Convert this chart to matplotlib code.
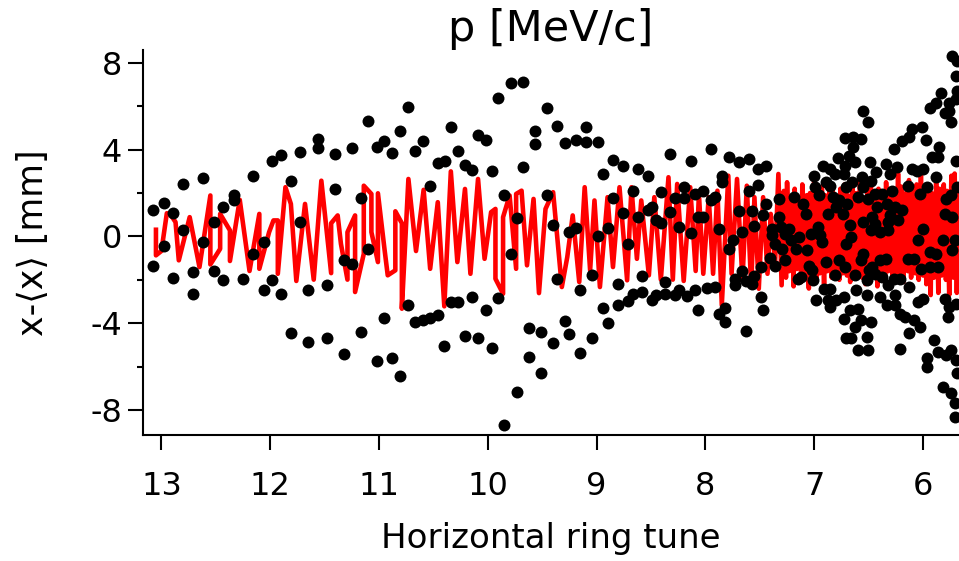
import numpy as np
import matplotlib
matplotlib.use("Agg")
import matplotlib.pyplot as plt

plt.rcParams['font.family'] = ['DejaVu Sans']

# tick positions
tune_ticks = [13, 12, 11, 10, 9, 8, 7, 6]
offset_ticks = [-8, -4, 0, 4, 8]
offset_minor = [-6, -2, 2, 6]

# red trace: (tune, offset [mm])
trace_pts = [
    (13.05, 0.31), (13.05, -0.87), (13.00, -0.67), (12.95, 1.07), (12.92, 1.04), (12.87, 0.66),
    (12.84, -1.10), (12.74, 0.89), (12.65, -1.41), (12.55, 1.89), (12.55, -1.29), (12.46, -0.57),
    (12.46, 1.04), (12.37, 0.28), (12.37, -1.13), (12.28, 1.69), (12.19, -1.59), (12.10, 1.04),
    (12.10, -1.49), (12.01, 0.20), (11.97, 0.74), (11.93, 0.74), (11.93, -1.72),
    (11.86, 2.27), (11.81, 1.50), (11.76, -2.05), (11.68, 1.50), (11.60, -1.99), (11.53, 2.57),
    (11.44, -1.69), (11.44, 0.61), (11.38, 0.97), (11.35, -0.34), (11.29, -1.99), (11.29, 0.20),
    (11.22, 0.97), (11.22, -2.56), (11.14, -0.80), (11.14, 2.34), (11.07, 1.96), (11.07, 0.20),
    (11.01, -1.18), (11.01, 1.99), (10.95, -0.57), (10.92, -1.79), (10.85, -1.56), (10.85, 1.16),
    (10.79, 0.61), (10.79, -3.33), (10.73, 2.65), (10.66, -0.67),
    (10.59, 2.15), (10.53, -1.49), (10.46, 1.58), (10.40, -3.22), (10.34, 3.00), (10.28, -1.18),
    (10.21, 2.19), (10.16, -1.72), (10.09, 2.65), (10.03, -1.03), (9.97, 1.12), (9.93, 1.27),
    (9.93, -1.95), (9.86, -2.64), (9.86, 0.89), (9.80, 1.89), (9.74, -1.49), (9.74, 1.96),
    (9.69, 2.11), (9.64, -1.33), (9.58, 1.73), (9.53, -2.61), (9.47, 1.27), (9.40, 2.04),
    (9.32, -2.33), (9.27, -0.95), (9.22, 0.97), (9.16, -2.10), (9.11, 2.27), (9.06, -1.56),
    (9.02, 1.66), (8.97, -2.33), (8.90, 1.81), (8.85, -1.41), (8.79, 2.27), (8.72, -2.02),
    (8.68, 2.27), (8.63, -1.03), (8.59, 1.66), (8.52, -1.79), (8.47, 1.81), (8.41, -1.99),
    (8.34, 2.73), (8.30, -1.99), (8.26, 2.42), (8.20, -2.05), (8.14, 2.27),
    (8.09, -1.59), (8.06, 1.96), (8.02, -1.72), (7.97, 1.81), (7.93, -1.72), (7.89, 2.11),
    (7.85, -3.17), (7.79, 2.80), (7.76, -1.72), (7.71, 2.65), (7.66, -2.02), (7.62, 2.34),
    (7.58, -2.33), (7.55, 1.81), (7.51, -2.41), (7.47, 1.81), (7.43, -1.72), (7.40, 1.04),
    (7.36, -1.20), (7.33, 2.88), (7.30, -2.25),
    (7.28, 2.1), (7.26, -1.9), (7.25, 2.5), (7.23, -1.6), (7.21, 1.8), (7.19, -2.3), (7.18, 2.2),
    (7.16, -1.5), (7.14, 1.7), (7.12, -2.1), (7.11, 2.4), (7.09, -1.8), (7.07, 1.9), (7.05, -2.4),
    (7.04, 2.0), (7.02, -1.6), (7.00, 2.9), (6.98, -2.0), (6.97, 1.8), (6.95, -1.7), (6.93, 2.3),
    (6.91, -2.2), (6.90, 1.9), (6.88, -1.6), (6.86, 2.5), (6.84, -1.9), (6.83, 2.1), (6.81, -1.5),
    (6.79, 1.8), (6.77, -2.0), (6.76, 2.2), (6.74, -1.7), (6.72, 2.4), (6.70, -1.8), (6.69, 1.9),
    (6.67, -2.1), (6.65, 2.3), (6.63, -1.6), (6.62, 2.0), (6.60, -1.8), (6.58, 2.6), (6.56, -1.9),
    (6.55, 1.8), (6.53, -2.2), (6.51, 2.1), (6.49, -1.6), (6.48, 2.4), (6.46, -1.8), (6.44, 1.9),
    (6.42, -2.3), (6.41, 2.2), (6.39, -1.7), (6.37, 2.0), (6.35, -1.9), (6.34, 2.5), (6.32, -1.6),
    (6.30, 2.1), (6.28, -2.0), (6.27, 1.8), (6.25, -1.7), (6.23, 2.9), (6.21, -1.8), (6.20, 2.3),
    (6.18, -2.1), (6.16, 2.0), (6.14, -1.6), (6.13, 2.6), (6.11, -1.9), (6.09, 2.2), (6.07, -1.7),
    (6.06, 2.4), (6.04, -2.0), (6.02, 2.9), (6.00, -1.8), (5.99, 2.1), (5.97, -2.2), (5.95, 2.3),
    (5.93, -2.7), (5.92, 2.0), (5.90, -1.9), (5.88, 2.5), (5.86, -2.6), (5.85, 2.2), (5.83, -1.8),
    (5.81, 2.4), (5.79, -2.0), (5.78, 2.1), (5.76, -2.7), (5.74, 2.8), (5.72, -1.9), (5.71, 2.9),
    (5.69, -2.6), (5.67, 2.3), (5.66, -1.8),
]

# black markers: (tune, offset [mm])
dot_pts = [
    (13.075, 1.23), (12.98, 1.53), (12.98, -0.46), (13.075, -1.38), (12.89, 1.09), (12.89, -1.90),
    (12.80, 2.42), (12.80, 0.28), (12.71, -1.64), (12.71, -2.67), (12.62, 2.70), (12.62, -0.26),
    (12.52, 0.66), (12.52, -1.59), (12.43, 1.35), (12.43, -2.02), (12.33, 1.93), (12.33, 1.66),
    (12.25, -1.95), (12.16, 2.80), (12.16, -0.80), (12.06, -0.26), (12.06, -2.45), (11.98, 3.46),
    (11.98, -2.02), (11.90, 3.77), (11.90, -2.64),
    (11.81, 2.54), (11.81, -4.45), (11.73, 3.88), (11.73, 0.66), (11.65, -2.45), (11.65, -4.86),
    (11.56, 4.49), (11.56, 4.08), (11.48, -2.25), (11.48, -4.66), (11.40, 3.80), (11.40, 2.18),
    (11.32, -1.10), (11.32, -5.43), (11.25, 4.08), (11.25, -1.29), (11.17, 1.75), (11.17, -4.40),
    (11.10, 5.33), (11.10, -0.58), (11.02, 4.11), (11.02, -5.73), (10.95, 4.41), (10.95, -3.74),
    (10.88, 3.85), (10.88, -5.62), (10.81, 4.84), (10.81, -6.41), (10.73, 5.98), (10.73, -3.17),
    (10.67, 3.92), (10.67, -3.94),
    (10.60, 4.41), (10.60, -3.83), (10.53, 2.34), (10.53, -3.74), (10.46, 3.37), (10.46, -3.63),
    (10.39, 3.46), (10.40, -5.03), (10.34, 5.03), (10.34, -3.02), (10.27, 3.95), (10.27, -3.02),
    (10.21, 3.31), (10.21, -4.60), (10.15, 3.07), (10.15, -2.79), (10.09, 4.69), (10.09, -4.70),
    (10.02, 4.44), (10.02, -3.40), (9.96, 3.00), (9.96, -5.12), (9.91, 6.38), (9.91, -2.82),
    (9.85, 1.93), (9.85, -8.69), (9.79, 7.07), (9.79, -0.80), (9.73, 0.86), (9.73, -7.19),
    (9.68, 7.10), (9.68, 3.22), (9.62, -4.20), (9.62, -5.55), (9.57, 4.87), (9.57, 4.26),
    (9.51, -4.40), (9.51, -6.31), (9.46, 5.92), (9.46, 1.89), (9.40, 0.51), (9.40, -4.93),
    (9.36, 5.07), (9.36, -1.95),
    (9.29, 4.29), (9.29, -3.89), (9.25, 0.20), (9.25, -4.51), (9.19, 4.44), (9.19, 0.40),
    (9.15, -2.48), (9.15, -5.39), (9.10, 5.06), (9.10, 4.34), (9.04, -1.79), (9.04, -4.70),
    (8.99, 4.34), (8.99, 0.02), (8.94, 2.88), (8.94, -3.30), (8.90, 0.40), (8.90, -3.97),
    (8.85, 3.52), (8.85, 1.78), (8.80, -2.21), (8.80, -3.17), (8.76, 3.26), (8.76, 1.09),
    (8.71, -0.37), (8.71, -2.97), (8.67, 2.11), (8.67, -2.64), (8.62, 3.11), (8.62, 0.89),
    (8.58, -1.84), (8.58, -2.56), (8.53, 2.80), (8.53, 1.23), (8.49, 1.35), (8.49, -2.91),
    (8.45, 0.74), (8.45, -2.71), (8.41, 2.04), (8.41, 0.61), (8.37, -2.10), (8.37, -2.64),
    (8.33, 3.80), (8.33, 1.12), (8.28, 1.78), (8.28, -2.71), (8.24, 0.43), (8.24, -2.48),
    (8.20, 2.30), (8.20, 1.78), (8.17, -2.76), (8.13, 3.49), (8.13, 0.15), (8.10, 1.96),
    (8.10, -2.45),
    (8.07, 0.89), (8.07, -3.40), (8.02, 2.08), (8.02, 0.89), (7.99, -2.36), (7.95, 4.03),
    (7.95, 1.66), (7.91, 1.81), (7.91, -2.33), (7.88, 0.35), (7.88, -3.56), (7.85, 2.80),
    (7.85, 2.50), (7.82, -3.28), (7.82, -3.94), (7.78, 3.65), (7.78, -0.57), (7.75, -0.18),
    (7.73, -1.95), (7.73, -2.25), (7.69, 3.42), (7.69, 1.16), (7.66, 0.20), (7.66, -1.59),
    (7.63, -4.35), (7.63, -2.05), (7.60, 3.57), (7.60, 2.08), (7.57, 1.16), (7.57, -2.21),
    (7.55, 0.47), (7.55, -1.84), (7.52, 3.11), (7.52, 2.39), (7.49, -2.79), (7.49, -1.41),
    (7.47, 1.01), (7.47, -3.40), (7.44, 3.26), (7.44, 1.50), (7.41, -0.98), (7.39, 0.35),
    (7.39, 0.05), (7.36, -1.38), (7.36, -0.34), (7.32, 1.73), (7.32, 0.89), (7.31, 0.43),
    (7.30, -0.57), (7.27, -1.10), (7.27, 0.12), (7.23, 0.35), (7.21, -0.18), (7.19, 1.81),
    (7.17, -0.57), (7.15, -1.95), (7.14, -0.03), (7.12, -1.87), (7.10, 1.50), (7.08, 1.04),
    (7.07, -0.64), (7.05, -1.38), (7.03, 0.12), (7.02, -1.56), (7.01, -2.02), (7.00, 2.80),
    (6.99, 2.27), (6.98, -2.94), (6.97, 0.43), (6.96, 1.89), (6.95, 0.05), (6.93, -0.26),
    (6.92, 3.26), (6.91, -2.41), (6.89, 2.50), (6.87, 1.04), (6.89, -1.18), (6.87, -2.94),
    (6.86, 3.11),
    (6.55, 5.76), (6.51, 5.26), (6.72, 4.54), (6.64, 4.57), (6.57, 4.49), (6.64, 4.11),
    (6.68, 3.72), (6.78, 3.62), (6.72, 3.26), (6.63, 3.42), (6.81, 2.88), (6.73, 2.88),
    (6.49, 3.42), (6.43, 2.96), (6.34, 3.34), (6.30, 2.88), (6.24, 3.22), (6.27, 4.03),
    (6.19, 4.41), (6.13, 4.57), (6.10, 4.95), (6.01, 5.06), (5.97, 4.44), (5.85, 4.14),
    (5.94, 5.94), (5.88, 6.17), (5.84, 6.63), (5.76, 6.17), (5.80, 5.71), (5.74, 5.26),
    (5.76, 5.79), (5.70, 6.33), (5.70, 7.40), (5.73, 8.32), (5.69, 8.09), (5.69, 6.71),
    (5.92, 3.65), (5.86, 3.65), (6.00, 3.11), (6.06, 3.03), (6.10, 3.11), (5.96, 2.27),
    (5.88, 2.76), (6.14, 2.34), (6.03, 1.96), (5.70, 3.49), (5.79, 1.73), (5.74, 1.89),
    (5.69, 2.27), (5.80, 1.04), (5.73, 0.89),
    (6.86, 2.34), (6.83, 1.81), (6.77, 1.66), (6.71, 2.27), (6.65, 2.50), (6.56, 2.73),
    (6.48, 2.57), (6.55, 2.27), (6.60, 1.81), (6.51, 1.73), (6.44, 1.96), (6.38, 1.96),
    (6.29, 2.08), (6.42, 1.35), (6.33, 1.50), (6.26, 1.35), (6.19, 1.20), (6.23, 0.74),
    (6.30, 0.97), (6.47, 0.89), (6.70, 1.50), (6.74, 1.04), (6.80, 1.35), (6.55, 0.66),
    (6.67, 0.51), (6.44, 0.58), (6.32, 0.66), (6.48, 0.28), (6.40, 0.20), (6.32, 0.28),
    (6.66, -0.03), (6.71, -0.34), (6.00, 0.35), (6.05, -0.15), (5.82, -0.18), (5.71, -0.18),
    (5.73, -0.64), (5.94, -0.72), (5.88, -0.80), (6.55, -0.80), (6.57, -1.10), (6.34, -1.03),
    (6.40, -1.07), (6.77, -1.10), (6.72, -1.41), (6.14, -1.03), (6.08, -1.03), (6.02, -1.49),
    (5.94, -1.41), (5.86, -1.41), (6.63, -1.79), (6.81, -1.79), (6.50, -1.56), (6.47, -1.41),
    (6.52, -2.02), (6.44, -1.72), (6.38, -1.87), (6.27, -1.95), (6.21, -1.95), (6.32, -2.25),
    (6.13, -2.33), (6.62, -2.45), (6.52, -2.71), (6.40, -2.79), (6.26, -2.71), (6.86, -2.41),
    (6.80, -2.94), (6.73, -2.79), (6.05, -3.02), (6.00, -2.87), (5.80, -2.87), (5.76, -3.25),
    (5.70, -3.10), (5.77, -3.71), (6.33, -3.17), (6.26, -3.17), (6.21, -3.56), (6.17, -3.71),
    (6.08, -3.86), (6.03, -4.17), (6.13, -4.47), (6.86, -3.25), (6.73, -3.79), (6.67, -3.40),
    (6.60, -3.33), (6.57, -3.86), (6.63, -4.17), (6.48, -3.94), (6.71, -4.70), (6.66, -4.70),
    (6.52, -4.63), (6.60, -5.24), (6.51, -5.24), (6.21, -5.17), (5.90, -4.78), (5.96, -5.62),
    (5.96, -6.01), (5.86, -5.32), (5.79, -5.47), (5.74, -5.24), (5.70, -5.70), (5.69, -6.31),
    (5.82, -6.93), (5.74, -7.23), (5.71, -7.69), (5.71, -8.31),
]

trace = np.array(trace_pts)
dots = np.array(dot_pts)

fig = plt.figure(figsize=(9.59, 5.61), dpi=100)
ax = fig.add_axes([0.149, 0.2246, 0.851, 0.6865])

ax.plot(trace[:, 0], trace[:, 1], color='red', lw=3.3, zorder=2)
ax.plot(dots[:, 0], dots[:, 1], 'o', color='black', ms=8.6, mew=0, zorder=3)

ax.set_xlim(13.17, 5.67)
ax.set_ylim(-9.15, 8.6)

for s in ['top', 'right']:
    ax.spines[s].set_visible(False)
for s in ['left', 'bottom']:
    ax.spines[s].set_linewidth(1.5)

ax.set_xticks(tune_ticks)
ax.set_xticklabels([str(t) for t in tune_ticks])
ax.set_yticks(offset_ticks)
ax.set_yticklabels([str(t) for t in offset_ticks])
ax.set_yticks(offset_minor, minor=True)

ax.tick_params(axis='x', direction='out', length=11, width=1.5, pad=15, labelsize=23)
ax.tick_params(axis='y', which='major', direction='out', length=11, width=1.5, pad=4, labelsize=23)
ax.tick_params(axis='y', which='minor', direction='out', length=4.5, width=1.5)

ax.set_xlabel('Horizontal ring tune', fontsize=24.5, labelpad=14)
ax.set_ylabel('x-\u27e8x\u27e9 [mm]', fontsize=25, labelpad=29)
ax.set_title('p [MeV/c]', fontsize=31, pad=4)

fig.savefig('out.png', dpi=100)
